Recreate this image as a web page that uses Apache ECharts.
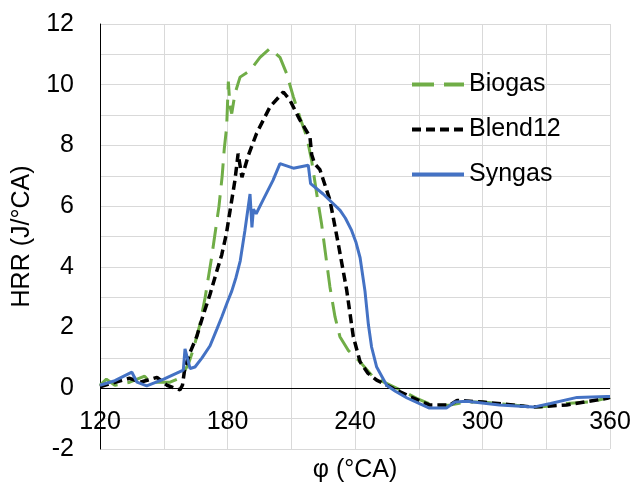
<!DOCTYPE html>
<html>
<head>
<meta charset="utf-8">
<script src="https://cdn.jsdelivr.net/npm/echarts@6/dist/echarts.min.js"></script>
<style>html,body{margin:0;padding:0;background:#fff;}#c{width:635px;height:488px;}</style>
</head>
<body>
<div id="c"></div>
<script>
const seriesNames = ['Biogas', 'Blend12', 'Syngas'];
const xTickLabels = [120, 180, 240, 300, 360];
const yTickLabels = [-2, 0, 2, 4, 6, 8, 10, 12];

const biogasX = [120,123,127,134,141,143.5,153,158,161.6,164,167,169.5,172.5,176,177.5,178.5,179.6,180.4,181.2,182,183.5,185.9,190.6,195.3,200,204.7,207.8,211,214,217.3,219.6,222,224.3,225.9,228.2,230.6,232.9,236.8,242.4,248.6,259.7,269,276.8,284.7,292.6,300,316,327,339.6,350.6,360];
const biogasY = [0.1,0.3,0.1,0.2,0.4,0.2,0.2,0.35,0.8,1.3,2.1,3.0,4.3,6.0,7.0,7.9,8.6,10.1,9.27,9.05,9.7,10.25,10.47,10.9,11.2,10.9,10.37,9.6,8.94,8.28,7.5,6.4,5.4,4.55,3.34,2.35,1.7,1.25,0.87,0.37,0,-0.33,-0.56,-0.55,-0.45,-0.45,-0.56,-0.62,-0.5,-0.45,-0.3];

const blendX = [120,124.7,134,139,146.8,151.5,155.3,157.6,158.8,160,162.5,165.5,168.5,171.8,174.5,177.3,179.5,181.2,183.5,185,186.8,189.8,193.7,200,206.3,209.4,214,218.8,219.6,221,223.5,228.2,232.1,236.1,239.2,242.4,246,250.2,255,266,275,284.7,288,300,324,339.6,358.6,360];
const blendY = [0.05,0.15,0.33,0.2,0.36,0.1,0,-0.05,0.1,0.7,1.2,1.7,2.4,3.1,3.75,4.4,5.1,5.85,6.85,7.73,6.95,7.67,8.4,9.27,9.76,9.49,8.85,8.28,7.7,7.4,7.2,6.2,4.77,3.23,1.7,0.87,0.5,0.27,0.1,-0.28,-0.55,-0.55,-0.4,-0.45,-0.62,-0.55,-0.33,-0.3];

const syngasX = [120,127,135,137.4,142,150,159.2,160,162.4,164.7,168,171.8,175,177.3,180,182,184,186,188.2,190.6,191.5,192.2,193.5,196.7,201.4,204.7,211,218,219.1,225,229.8,233,235.5,238.4,240.5,242.4,244.7,246.3,247.8,250.2,254.9,259,264.5,275,283,287,292.6,308,324,332,344.5,358.6,360];
const syngasY = [0.1,0.25,0.53,0.2,0.08,0.3,0.6,1.3,0.65,0.7,1.0,1.4,1.95,2.35,2.85,3.2,3.65,4.2,5.2,6.4,5.3,5.9,5.75,6.2,6.85,7.4,7.25,7.35,6.74,6.4,6.08,5.86,5.6,5.2,4.8,4.3,3.2,2.1,1.36,0.7,0.1,-0.1,-0.32,-0.65,-0.65,-0.45,-0.43,-0.55,-0.62,-0.5,-0.3,-0.27,-0.27];

function pairs(xs, ys) { return xs.map((x, i) => [x, ys[i]]); }

const FONT = 'Liberation Sans, Arial, sans-serif';
const chart = echarts.init(document.getElementById('c'), null, {renderer: 'canvas'});
chart.setOption({
  backgroundColor: '#ffffff',
  animation: false,
  grid: {left: 100, right: 25, top: 24, bottom: 39, containLabel: false, outerBoundsMode: 'none'},
  legend: {
    orient: 'vertical', left: 405, top: 67,
    itemWidth: 52, itemHeight: 14, itemGap: 20,
    itemStyle: {opacity: 0},
    textStyle: {fontFamily: FONT, fontSize: 25, color: '#000', lineHeight: 25},
    data: [
      {name: seriesNames[0], lineStyle: {width: 4}},
      {name: seriesNames[1], lineStyle: {width: 4}},
      {name: seriesNames[2], lineStyle: {width: 4}}
    ]
  },
  xAxis: {
    type: 'value', min: 120, max: 360, interval: 30,
    name: 'φ (°CA)', nameLocation: 'middle', nameGap: 9,
    nameTextStyle: {fontFamily: FONT, fontSize: 25, color: '#000'},
    axisLine: {show: false, onZero: false},
    axisTick: {show: false},
    axisLabel: {inside: true, margin: 14, fontFamily: FONT, fontSize: 25, color: '#000',
      formatter: v => xTickLabels.includes(v) ? String(v) : ''},
    splitLine: {show: true, lineStyle: {color: '#d9d9d9', width: 1}}
  },
  yAxis: {
    type: 'value', min: -2, max: 12, interval: 1,
    name: 'HRR (J/°CA)', nameLocation: 'middle', nameGap: 65, nameRotate: 90,
    nameTextStyle: {fontFamily: FONT, fontSize: 25, color: '#000'},
    axisLine: {show: true, onZero: false, lineStyle: {color: '#000', width: 1}},
    axisTick: {show: false},
    axisLabel: {margin: 26, fontFamily: FONT, fontSize: 25, color: '#000',
      formatter: v => yTickLabels.includes(v) ? String(v) : ''},
    splitLine: {show: true, lineStyle: {color: '#d9d9d9', width: 1}}
  },
  series: [
    {name: 'zero', type: 'line', data: [], z: 1, silent: true,
     markLine: {silent: true, symbol: 'none', label: {show: false},
       lineStyle: {color: '#000', width: 1, type: 'solid'},
       emphasis: {disabled: true},
       data: [{yAxis: 0}]}},
    {name: seriesNames[0], type: 'line', symbol: 'none', data: pairs(biogasX, biogasY),
     color: '#70AD47', lineStyle: {color: '#70AD47', width: 3, type: [22, 10]}, z: 3},
    {name: seriesNames[1], type: 'line', symbol: 'none', data: pairs(blendX, blendY),
     color: '#000000', lineStyle: {color: '#000000', width: 3.5, type: [9, 5]}, z: 4},
    {name: seriesNames[2], type: 'line', symbol: 'none', data: pairs(syngasX, syngasY),
     color: '#4472C4', lineStyle: {color: '#4472C4', width: 3}, z: 5}
  ]
});
</script>
</body>
</html>
